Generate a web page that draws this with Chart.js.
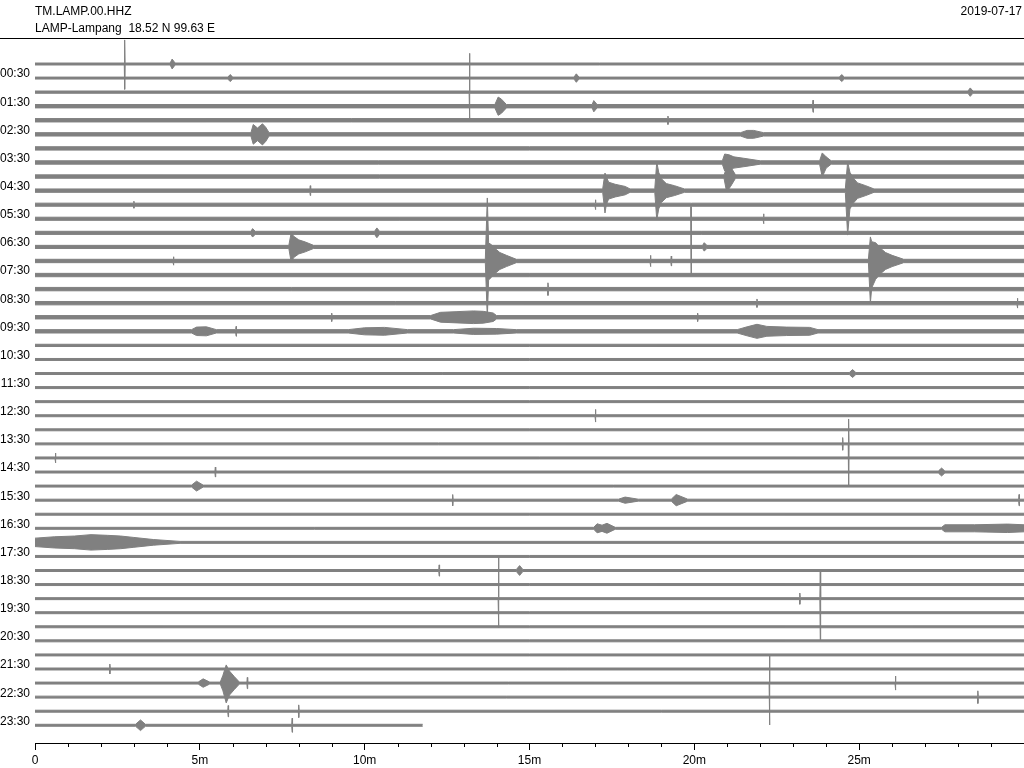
<!DOCTYPE html>
<html>
<head>
<meta charset="utf-8">
<script src="https://cdn.jsdelivr.net/npm/chart.js@4.4.1/dist/chart.umd.min.js"></script>
<style>
  html, body { margin: 0; padding: 0; background: #fff; }
  #wrap { width: 1024px; height: 768px; }
</style>
</head>
<body>
<div id="wrap"><canvas id="heli"></canvas></div>
<script>
// station header
const stationId = 'TM.LAMP.00.HHZ';
const stationName = 'LAMP-Lampang  18.52 N 99.63 E';
const dayLabel = '2019-07-17';

// left labels (every second line) and minute axis
const hourLabels = ['00:30','01:30','02:30','03:30','04:30','05:30','06:30','07:30',
  '08:30','09:30','10:30','11:30','12:30','13:30','14:30','15:30',
  '16:30','17:30','18:30','19:30','20:30','21:30','22:30','23:30'];
const minuteTicks = [0, 5, 10, 15, 20, 25];
const minuteLabels = ['0', '5m', '10m', '15m', '20m', '25m'];

// background noise half-amplitude of each 30 min line (line spacing = 1)
const traceNoise = [
  .07, .07, .08, .12, .12, .12, .12, .12, .12, .12,
  .11, .11, .11, .11, .12, .12, .12, .12, .12, .12,
  .08, .07, .07, .07, .07, .07, .07, .07, .07, .07,
  .07, .07, .07, .07, .07, .07, .07, .07, .07, .07,
  .07, .07, .07, .07, .07, .07, .07, .07
];
const lastLineEnd = 11.76; // minutes recorded on the last line

// single spikes: [line, minute, up, down]
const spikes = [
  [0, 2.72, 1.71, 1.8], [2, 13.18, 2.76, 1.98], [3, 23.6, .43, .43],
  [4, 19.2, .3, .3], [9, 8.35, .35, .35], [10, 3.0, .25, .25],
  [10, 17.0, .35, .35], [10, 19.9, .1, 5.0], [11, 22.1, .35, .35],
  [14, 4.2, .3, .3], [14, 18.67, .4, .4], [14, 19.3, .35, .35],
  [16, 15.56, .45, .45], [17, 21.9, .3, .3], [17, 29.8, .35, .35],
  [18, 9.0, .3, .3], [18, 20.1, .3, .3], [19, 6.1, .35, .35],
  [25, 17.0, .45, .45], [27, 24.5, .45, .45], [27, 24.68, 1.77, 3.06],
  [28, 0.62, .35, .35], [29, 5.47, .35, .35], [31, 12.67, .4, .4],
  [31, 29.85, .4, .4], [36, 12.26, .4, .4], [38, 14.06, 2.91, 2.06],
  [38, 23.2, .4, .4], [38, 23.82, 1.97, 2.94], [43, 2.27, .35, .35],
  [44, 6.44, .4, .4], [44, 22.28, 1.95, 2.98], [44, 26.1, .5, .5],
  [45, 28.6, .45, .45], [46, 5.86, .4, .4], [46, 8.0, .45, .45],
  [47, 7.8, .5, .5]
];

// events with an envelope: [line, [[minute, up, down?], ...]]  (0 = background)
const bursts = [
  [0, [[4.1, 0], [4.16, .35], [4.25, 0]]],
  [1, [[5.85, 0], [5.92, .25], [6.0, 0]]],
  [1, [[16.35, 0], [16.42, .3], [16.5, 0]]],
  [1, [[24.4, 0], [24.47, .25], [24.55, 0]]],
  [2, [[28.3, 0], [28.37, .3], [28.45, 0]]],
  [3, [[13.95, 0], [14.05, .65], [14.15, .5], [14.3, 0]]],
  [3, [[16.9, 0], [16.95, .4], [17.05, 0]]],
  [5, [[6.55, 0], [6.62, .7], [6.75, .45], [6.9, .75], [7.0, .5], [7.1, 0]]],
  [5, [[21.4, 0], [21.6, .28], [21.8, .28], [22.1, 0]]],
  [7, [[20.85, 0], [20.92, .6], [21.05, .55], [21.2, .4], [21.5, .3], [22.0, 0]]],
  [7, [[23.8, 0], [23.88, .68, 1.03], [24.0, .4], [24.15, 0]]],
  [8, [[20.9, 0], [20.98, .61, 1.1], [21.1, .7], [21.25, 0]]],
  [9, [[17.22, 0], [17.29, 1.25, 1.59], [17.33, 1.0], [17.4, .6], [17.6, .45], [17.9, .3], [18.05, 0]]],
  [9, [[18.8, 0], [18.86, 2.05, 2.09], [18.92, 1.3], [19.0, .85], [19.15, .5], [19.4, .35], [19.7, 0]]],
  [9, [[24.58, 0], [24.65, 2.05, 3.16], [24.72, 1.3], [24.82, .9], [24.95, .55], [25.2, .35], [25.45, 0]]],
  [12, [[6.55, 0], [6.6, .3], [6.68, 0]]],
  [12, [[10.3, 0], [10.37, .35], [10.45, 0]]],
  [13, [[7.7, 0], [7.77, .99, 1.07], [7.85, .75], [8.0, .5], [8.2, .35], [8.45, 0]]],
  [13, [[20.25, 0], [20.3, .3], [20.38, 0]]],
  [14, [[13.66, 0], [13.72, 4.48, 4.05], [13.76, 1.28, 1.35], [13.85, 1.15], [13.95, .9], [14.1, .6], [14.3, .4], [14.6, 0]]],
  [14, [[25.28, 0], [25.34, 1.71, 2.99], [25.38, 1.37, 1.92], [25.5, 1.3], [25.65, .9], [25.8, .6], [26.0, .4], [26.35, 0]]],
  [18, [[12.0, 0], [12.3, .35], [12.8, .4], [13.3, .45], [13.6, .42], [13.9, .3], [14.0, 0]]],
  [19, [[4.75, 0], [4.9, .3], [5.2, .32], [5.5, 0]]],
  [19, [[9.5, 0], [10.0, .25], [10.6, .28], [11.3, 0]]],
  [19, [[12.7, 0], [13.3, .22], [14.0, .2], [14.6, 0]]],
  [19, [[21.3, 0], [21.6, .32], [21.9, .5], [22.2, .35], [22.8, .3], [23.5, .28], [23.75, 0]]],
  [22, [[24.7, 0], [24.8, .28], [24.9, 0]]],
  [29, [[27.4, 0], [27.5, .28], [27.6, 0]]],
  [30, [[4.75, 0], [4.9, .35], [5.1, 0]]],
  [31, [[17.7, 0], [17.9, .22], [18.3, 0]]],
  [31, [[19.3, 0], [19.45, .4], [19.8, 0]]],
  [33, [[16.95, 0], [17.05, .32], [17.2, .22], [17.35, .35], [17.6, 0]]],
  [33, [[27.5, 0], [27.6, .25], [28.5, .25], [29.5, .3], [30, .25]]],
  [34, [[0, .3], [0.6, .4], [1.2, .45], [1.7, .55], [2.2, .5], [2.6, .45], [3.0, .35], [3.6, .2], [4.4, 0]]],
  [36, [[14.6, 0], [14.7, .35], [14.8, 0]]],
  [44, [[4.95, 0], [5.1, .3], [5.3, 0]]],
  [44, [[5.62, 0], [5.7, .55], [5.8, 1.29, 1.41], [5.9, .85], [6.05, .45], [6.2, 0]]],
  [47, [[3.05, 0], [3.2, .38], [3.35, 0]]]
];

const traceColor = '#808080';

// envelope of one line, upper and lower edge
function lineEnvelope(i) {
  const base = traceNoise[i];
  const end = i === traceNoise.length - 1 ? lastLineEnd : 30;
  const pts = [];
  bursts.filter(b => b[0] === i).forEach(b => {
    b[1].forEach(p => {
      const up = Math.max(base, p[1]);
      const dn = Math.max(base, p.length > 2 ? p[2] : p[1]);
      pts.push({ t: p[0], up: up, dn: dn });
    });
  });
  spikes.filter(s => s[0] === i).forEach(s => {
    pts.push({ t: s[1] - 0.012, up: base, dn: base });
    pts.push({ t: s[1], up: s[2], dn: s[3] });
    pts.push({ t: s[1] + 0.012, up: base, dn: base });
  });
  if (!pts.some(p => p.t <= 0)) pts.push({ t: 0, up: base, dn: base });
  if (!pts.some(p => p.t >= end)) pts.push({ t: end, up: base, dn: base });
  pts.sort((a, b) => a.t - b.t);
  return {
    upper: pts.map(p => ({ x: p.t, y: i - p.up })),
    lower: pts.map(p => ({ x: p.t, y: i + p.dn }))
  };
}

const datasets = [];
for (let i = 0; i < traceNoise.length; i++) {
  const env = lineEnvelope(i);
  datasets.push({
    data: env.upper, borderColor: traceColor, backgroundColor: traceColor,
    borderWidth: 1, pointRadius: 0, fill: false
  });
  datasets.push({
    data: env.lower, borderColor: traceColor, backgroundColor: traceColor,
    borderWidth: 1, pointRadius: 0, fill: '-1'
  });
}

const FONT = '"Liberation Sans", Arial, sans-serif';

const decorations = {
  id: 'decorations',
  afterDraw(chart) {
    const ctx = chart.ctx;
    const area = chart.chartArea;
    const xs = chart.scales.x;
    ctx.save();
    ctx.fillStyle = '#000';
    ctx.font = '12px ' + FONT;
    ctx.textBaseline = 'alphabetic';
    ctx.textAlign = 'left';
    ctx.fillText(stationId, 35, 14.5);
    ctx.fillText(stationName, 35, 31.5);
    ctx.textAlign = 'right';
    ctx.fillText(dayLabel, 1022, 14.5);
    // frame line above the lines
    ctx.strokeStyle = '#000';
    ctx.lineWidth = 1;
    ctx.beginPath();
    ctx.moveTo(0, area.top + 0.5);
    ctx.lineTo(chart.width, area.top + 0.5);
    // minute ticks
    for (let m = 1; m < 30; m++) {
      if (m % 5 === 0) continue;
      const x = Math.round(xs.getPixelForValue(m)) + 0.5;
      ctx.moveTo(x, area.bottom);
      ctx.lineTo(x, area.bottom + 4);
    }
    ctx.stroke();
    ctx.restore();
  }
};

new Chart(document.getElementById('heli'), {
  type: 'line',
  data: { datasets: datasets },
  plugins: [decorations],
  options: {
    responsive: true,
    maintainAspectRatio: false,
    animation: false,
    events: [],
    layout: { padding: { top: 38, left: 0, right: 0, bottom: 0 } },
    plugins: { legend: { display: false }, tooltip: { enabled: false } },
    scales: {
      x: {
        type: 'linear',
        min: 0,
        max: 30,
        afterBuildTicks: s => { s.ticks = minuteTicks.map(v => ({ value: v })); },
        afterFit: s => { s.height = 25; },
        ticks: {
          autoSkip: false,
          maxRotation: 0,
          padding: 3,
          color: '#000',
          font: { family: FONT, size: 12 },
          callback: (v, idx) => minuteLabels[idx]
        },
        grid: { drawOnChartArea: false, drawTicks: true, tickLength: 7, color: '#000', tickColor: '#000' },
        border: { display: true, color: '#000', width: 1 }
      },
      y: {
        type: 'linear',
        reverse: true,
        min: -1.848,
        max: 48.26,
        // labels sit slightly above their line
        afterBuildTicks: s => { s.ticks = hourLabels.map((l, h) => ({ value: 2 * h + 1 - 0.28 })); },
        afterFit: s => { s.width = 35; },
        ticks: {
          autoSkip: false,
          padding: 5,
          color: '#000',
          font: { family: FONT, size: 12 },
          callback: (v, idx) => hourLabels[idx]
        },
        grid: { display: false, drawTicks: false },
        border: { display: false }
      }
    }
  }
});
</script>
</body>
</html>
